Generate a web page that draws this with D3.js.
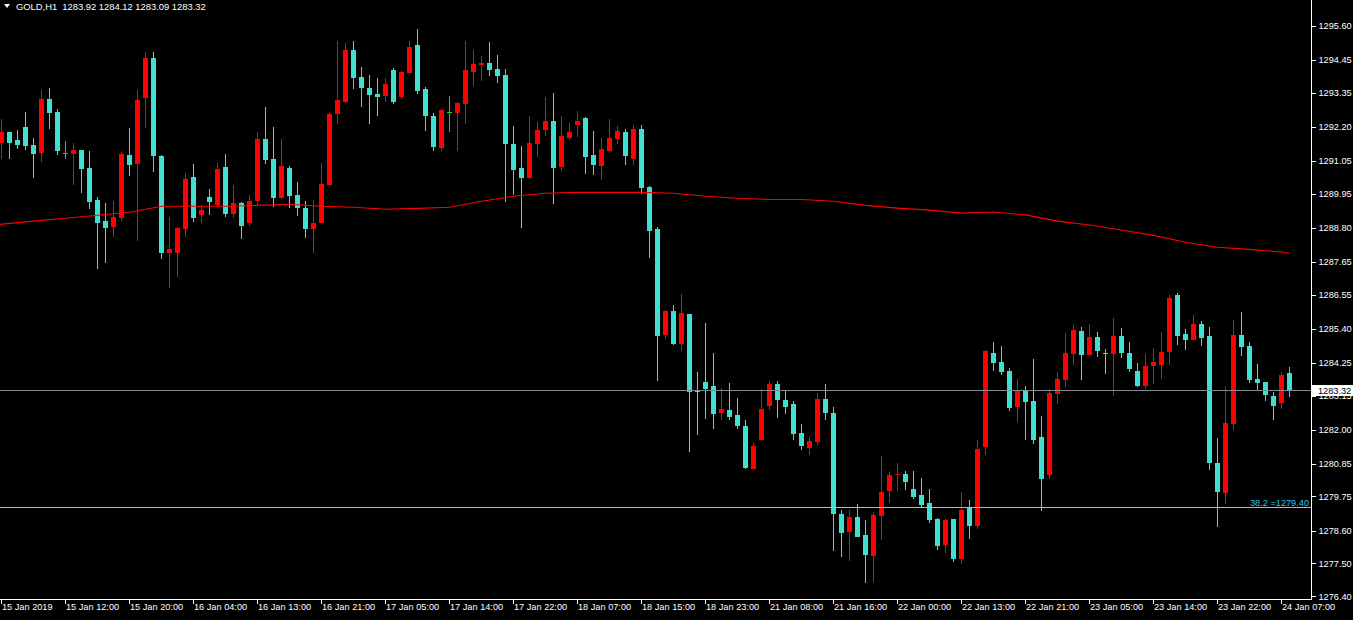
<!DOCTYPE html>
<html>
<head>
<meta charset="utf-8">
<script src="https://cdn.jsdelivr.net/npm/d3@7"></script>
<style>
  html, body { margin: 0; padding: 0; background: #000; }
  svg { display: block; }
  text { font-family: "Liberation Sans", Arial, sans-serif; }
</style>
</head>
<body>
<svg id="chart" width="1353" height="620"></svg>
<script>
// ---------------- DATA ----------------
const symbol = "GOLD,H1";
const headerOHLC = ["1283.92", "1284.12", "1283.09", "1283.32"];

const opens = [
1291.66,1292.01,1291.75,1292.19,1291.58,1291.32,1293.13,1292.69,1291.30,1291.29,
1291.41,1290.81,1289.73,1289.02,1288.82,1289.13,1291.25,1290.95,1293.18,1294.51,
1291.21,1287.96,1287.96,1288.77,1290.51,1289.24,1289.83,1289.57,1290.84,1289.27,
1289.63,1288.97,1289.71,1291.78,1291.11,1289.81,1290.81,1289.90,1289.46,1288.77,
1288.97,1290.25,1292.64,1293.04,1294.78,1293.87,1293.50,1293.30,1293.24,1294.11,
1293.21,1294.02,1294.95,1293.47,1292.56,1291.49,1292.68,1292.67,1292.97,1294.05,
1294.29,1294.34,1294.14,1293.94,1291.62,1290.81,1290.48,1291.63,1292.10,1292.39,
1290.85,1291.83,1292.26,1292.49,1291.25,1290.89,1291.38,1291.80,1292.02,1291.12,
1292.12,1290.17,1288.75,1285.19,1285.99,1284.89,1285.89,1283.33,1283.60,1283.47,
1282.57,1282.66,1282.49,1282.13,1280.68,1281.66,1282.81,1283.54,1283.00,1282.86,
1281.88,1281.39,1281.59,1283.03,1282.56,1279.16,1278.56,1279.06,1278.45,1277.75,
1279.10,1279.94,1280.48,1280.51,1280.00,1279.80,1279.53,1278.99,1278.12,1278.99,
1277.65,1279.36,1278.77,1281.42,1284.58,1284.27,1283.97,1282.77,1283.30,1282.96,
1281.75,1280.48,1283.21,1283.68,1284.56,1285.32,1284.52,1285.12,1284.58,1284.56,
1285.15,1284.58,1283.97,1283.48,1284.15,1284.19,1284.62,1286.53,1285.22,1285.03,
1285.56,1285.15,1280.88,1279.88,1282.20,1285.19,1284.82,1283.70,1283.60,1283.13,
1282.91,1283.92];
const highs = [
1292.46,1292.03,1292.09,1292.69,1291.83,1293.43,1293.50,1292.80,1291.72,1291.64,
1291.43,1291.38,1289.84,1289.63,1289.70,1291.35,1292.16,1293.43,1294.71,1294.71,
1291.25,1289.16,1288.82,1290.64,1290.94,1289.56,1290.10,1290.98,1291.27,1290.24,
1289.66,1289.90,1292.02,1292.86,1292.19,1291.78,1290.88,1290.34,1289.70,1289.73,
1290.98,1292.66,1295.08,1295.02,1295.08,1294.21,1293.94,1293.84,1293.84,1294.17,
1294.07,1295.08,1295.49,1293.54,1292.66,1292.78,1293.23,1293.03,1295.08,1294.78,
1294.58,1295.05,1294.61,1294.14,1292.22,1291.55,1292.56,1292.36,1293.20,1293.33,
1292.56,1292.32,1292.73,1292.51,1292.05,1291.82,1292.46,1292.22,1292.12,1292.26,
1292.26,1290.20,1288.82,1286.03,1286.20,1286.57,1285.91,1283.94,1285.59,1284.58,
1283.40,1283.57,1283.06,1282.33,1281.56,1283.38,1283.64,1283.64,1283.31,1282.96,
1282.19,1281.75,1283.23,1283.54,1282.76,1279.29,1279.29,1279.50,1278.96,1279.23,
1281.11,1280.57,1280.88,1280.61,1280.61,1280.37,1280.00,1279.02,1278.99,1279.00,
1279.90,1279.63,1281.65,1284.68,1284.95,1284.82,1284.07,1283.70,1283.47,1284.38,
1282.46,1283.37,1283.94,1285.25,1285.52,1285.46,1285.56,1285.29,1284.71,1285.76,
1285.42,1284.95,1284.24,1284.55,1284.75,1285.29,1286.53,1286.60,1285.39,1285.86,
1285.66,1285.46,1281.72,1283.47,1285.69,1285.96,1284.95,1284.21,1283.62,1283.28,
1283.94,1284.12];
const lows = [
1291.11,1291.11,1291.45,1291.42,1290.48,1291.01,1292.13,1291.25,1291.12,1290.24,
1289.98,1289.44,1287.40,1287.60,1288.49,1289.03,1290.55,1288.34,1292.17,1290.68,
1287.75,1286.78,1287.15,1288.50,1289.00,1288.96,1289.24,1289.51,1289.17,1289.14,
1288.43,1288.87,1289.57,1290.95,1289.51,1289.77,1289.47,1289.20,1288.46,1287.96,
1288.95,1290.23,1292.30,1293.01,1293.48,1292.87,1292.30,1292.57,1293.04,1292.97,
1293.14,1294.00,1293.31,1292.06,1291.39,1291.39,1292.03,1291.39,1292.30,1293.58,
1293.75,1293.92,1293.68,1289.67,1289.91,1288.80,1290.45,1291.19,1291.90,1289.61,
1290.72,1291.76,1291.86,1290.62,1290.58,1290.41,1291.36,1291.63,1290.92,1290.92,
1289.94,1287.79,1283.65,1285.06,1284.86,1284.66,1281.26,1281.83,1282.37,1282.03,
1282.33,1282.33,1282.03,1280.68,1280.66,1281.64,1282.67,1282.40,1282.54,1281.66,
1281.32,1281.16,1281.49,1282.33,1277.92,1277.72,1277.59,1278.37,1276.85,1276.88,
1278.29,1279.54,1279.94,1279.98,1279.67,1279.40,1278.87,1277.96,1277.86,1277.55,
1277.49,1278.33,1278.66,1281.16,1283.98,1283.85,1282.64,1282.27,1281.66,1281.53,
1279.27,1280.35,1282.87,1283.45,1284.19,1283.68,1284.50,1284.46,1283.88,1283.14,
1284.42,1283.95,1283.45,1283.38,1283.55,1283.71,1284.19,1284.86,1284.69,1285.01,
1284.83,1280.65,1278.73,1279.51,1282.00,1284.49,1283.58,1283.31,1282.97,1282.33,
1282.70,1283.09];
const closes = [
1292.01,1291.66,1291.58,1291.56,1291.29,1293.13,1292.67,1291.39,1291.30,1291.41,
1290.79,1289.67,1288.97,1288.79,1289.16,1291.29,1290.92,1293.10,1294.51,1291.22,
1287.96,1288.08,1288.79,1290.44,1289.14,1289.39,1289.67,1290.78,1289.27,1289.63,
1288.87,1289.70,1291.78,1291.09,1289.81,1290.88,1289.88,1289.47,1288.77,1288.96,
1290.27,1292.63,1293.10,1294.78,1293.85,1293.51,1293.28,1293.21,1293.64,1293.04,
1294.04,1294.88,1293.41,1292.57,1291.53,1292.76,1292.68,1293.00,1294.11,1294.31,
1294.34,1294.12,1293.92,1291.63,1290.75,1290.48,1291.65,1292.09,1292.39,1290.82,
1291.89,1292.02,1292.39,1291.19,1290.92,1291.45,1291.82,1292.05,1291.22,1292.12,
1290.15,1288.70,1285.16,1285.99,1284.88,1285.93,1283.28,1283.28,1283.38,1282.54,
1282.69,1282.43,1282.13,1280.72,1281.46,1282.70,1283.54,1283.01,1282.77,1281.86,
1281.46,1281.62,1283.03,1282.57,1279.17,1278.53,1279.06,1278.39,1277.79,1279.13,
1279.90,1280.47,1280.52,1280.25,1279.74,1279.47,1278.97,1278.09,1278.96,1277.65,
1279.29,1278.77,1281.35,1284.65,1284.25,1283.95,1282.74,1283.30,1282.94,1281.66,
1280.35,1283.23,1283.70,1284.58,1285.35,1284.52,1285.12,1284.66,1284.56,1285.15,
1284.59,1284.05,1283.48,1284.14,1284.27,1284.61,1286.43,1285.16,1285.03,1285.56,
1285.09,1280.89,1279.91,1282.22,1285.19,1284.79,1283.68,1283.58,1283.18,1282.81,
1283.84,1283.32];

// moving average, read at these bar indices
const maIndex = [0,4,8,12,16,20,24,28,32,36,40,44,48,52,56,60,64,68,72,76,80,
  84,88,92,96,100,104,108,112,116,120,124,128,132,136,140,144,148,152,156,160,161];
const maValues = [1288.91,1289.02,1289.12,1289.22,1289.32,1289.52,1289.52,1289.52,1289.55,1289.59,1289.52,
  1289.49,1289.42,1289.45,1289.49,1289.69,1289.86,1289.96,1289.99,1289.99,1289.99,
  1289.96,1289.86,1289.79,1289.75,1289.75,1289.69,1289.55,1289.46,1289.39,1289.29,
  1289.33,1289.23,1289.02,1288.89,1288.72,1288.54,1288.31,1288.14,1288.07,1287.98,1287.94];

const xTickIndex = [0,8,16,24,32,40,48,56,64,72,80,88,96,104,112,120,128,136,144,152,160];
const xTickLabels = ["15 Jan 2019","15 Jan 12:00","15 Jan 20:00","16 Jan 04:00","16 Jan 13:00",
  "16 Jan 21:00","17 Jan 05:00","17 Jan 14:00","17 Jan 22:00","18 Jan 07:00","18 Jan 15:00",
  "18 Jan 23:00","21 Jan 08:00","21 Jan 16:00","22 Jan 00:00","22 Jan 13:00","22 Jan 21:00",
  "23 Jan 05:00","23 Jan 14:00","23 Jan 22:00","24 Jan 07:00"];
const yTickLabels = ["1295.60","1294.45","1293.35","1292.20","1291.05","1289.95","1288.80",
  "1287.65","1286.55","1285.40","1284.25","1283.15","1282.00","1280.85","1279.75","1278.60",
  "1277.50","1276.40"];

const bidPrice = 1283.32;
const fibLevel = 1279.40;
const fibLabel = "38.2 =1279.40";

// ---------------- DRAW ----------------
const W = 1353, H = 620;
const plotRight = 1311, plotBottom = 599;
const colBear = "#40e0d0", colBull = "#ff0000", colDoji = "#22d022";

const svg = d3.select("#chart");
svg.append("rect").attr("width", W).attr("height", H).attr("fill", "#000");

const x = d3.scaleLinear().domain([0, 161]).range([1.5, 1289.5]);
const y = d3.scaleLinear().domain([1276.40, 1295.60]).range([596, 25.7]);

svg.append("defs").append("clipPath").attr("id", "plot")
  .append("rect").attr("x", 0).attr("y", 0).attr("width", plotRight).attr("height", plotBottom);

const bars = d3.range(opens.length).map(i => ({
  i, o: opens[i], h: highs[i], l: lows[i], c: closes[i]
}));
const colorOf = d => d.c > d.o ? colBull : (d.c < d.o ? colBear : colDoji);

const g = svg.append("g").attr("clip-path", "url(#plot)");

// wicks
g.selectAll("line.wick").data(bars).join("line")
  .attr("class", "wick")
  .attr("x1", d => Math.floor(x(d.i)) + 0.5).attr("x2", d => Math.floor(x(d.i)) + 0.5)
  .attr("y1", d => Math.round(y(d.h))).attr("y2", d => Math.round(y(d.l)))
  .attr("stroke", colorOf).attr("stroke-width", 1)
  .attr("shape-rendering", "crispEdges");

// bodies
g.selectAll("rect.body").data(bars).join("rect")
  .attr("class", "body")
  .attr("x", d => Math.floor(x(d.i)) - 2)
  .attr("width", 5)
  .attr("y", d => Math.round(y(Math.max(d.o, d.c))))
  .attr("height", d => Math.max(1, Math.round(y(Math.min(d.o, d.c))) - Math.round(y(Math.max(d.o, d.c)))))
  .attr("fill", colorOf)
  .attr("shape-rendering", "crispEdges");

// moving average
const maPts = maIndex.map((idx, k) => [idx, maValues[k]]);
g.append("path")
  .attr("d", d3.line().x(p => p[0] === 0 ? 0 : x(p[0])).y(p => y(p[1]))(maPts))
  .attr("fill", "none").attr("stroke", "#ff0000").attr("stroke-width", 1.1);

// bid line
g.append("line")
  .attr("x1", 0).attr("x2", plotRight)
  .attr("y1", Math.round(y(bidPrice)) + 0.5).attr("y2", Math.round(y(bidPrice)) + 0.5)
  .attr("stroke", "#7d8c9b").attr("stroke-width", 1).attr("shape-rendering", "crispEdges");

// fibo level
g.append("line")
  .attr("x1", 0).attr("x2", plotRight)
  .attr("y1", Math.round(y(fibLevel)) + 0.5).attr("y2", Math.round(y(fibLevel)) + 0.5)
  .attr("stroke", "#5fdde8").attr("stroke-width", 1).attr("shape-rendering", "crispEdges");
svg.append("text")
  .attr("x", 1309).attr("y", Math.round(y(fibLevel)) - 1.5)
  .attr("text-anchor", "end").attr("font-size", 9.2).attr("fill", "#2cc8ee")
  .text(fibLabel);

// axes frame
svg.append("line").attr("x1", plotRight + 0.5).attr("x2", plotRight + 0.5)
  .attr("y1", 0).attr("y2", plotBottom + 1)
  .attr("stroke", "#fff").attr("shape-rendering", "crispEdges");
svg.append("line").attr("x1", 0).attr("x2", plotRight + 1)
  .attr("y1", plotBottom + 0.5).attr("y2", plotBottom + 0.5)
  .attr("stroke", "#fff").attr("shape-rendering", "crispEdges");

// right price axis
const yAxis = d3.axisRight(y)
  .tickValues(yTickLabels.map(Number))
  .tickFormat((v, k) => yTickLabels[k])
  .tickSize(4).tickPadding(3);
const ya = svg.append("g").attr("transform", `translate(${plotRight + 0.5},0)`).call(yAxis);
ya.select(".domain").remove();
ya.selectAll(".tick line").attr("stroke", "#fff").attr("shape-rendering", "crispEdges");
ya.selectAll(".tick text").attr("fill", "#fff").attr("font-size", 9.2)
  .attr("font-family", "Liberation Sans, Arial, sans-serif").attr("dy", "0.34em");

// bottom time axis
const xAxis = d3.axisBottom(x)
  .tickValues(xTickIndex)
  .tickFormat((v, k) => xTickLabels[k])
  .tickSize(4).tickPadding(3);
const xa = svg.append("g").attr("transform", `translate(-0.5,${plotBottom + 0.5})`).call(xAxis);
xa.select(".domain").remove();
xa.selectAll(".tick line").attr("stroke", "#fff").attr("shape-rendering", "crispEdges");
xa.selectAll(".tick text").attr("fill", "#fff").attr("font-size", 9.2)
  .attr("font-family", "Liberation Sans, Arial, sans-serif")
  .attr("text-anchor", "start").attr("x", 0.5).attr("y", 4).attr("dy", "0.71em");

// bid price marker on the axis
const by = Math.round(y(bidPrice));
svg.append("rect").attr("x", plotRight + 1).attr("y", by - 5).attr("width", W - plotRight - 1).attr("height", 11)
  .attr("fill", "#fff");
svg.append("text").attr("x", plotRight + 7).attr("y", by + 3.5)
  .attr("font-size", 9.2).attr("fill", "#000").text(bidPrice.toFixed(2));

// header
svg.append("path").attr("d", "M4,4 L10,4 L7,8 Z").attr("fill", "#fff");
svg.append("text").attr("x", 16).attr("y", 9.5).attr("font-size", 9.4).attr("fill", "#fff")
  .attr("xml:space", "preserve")
  .text(symbol + "  " + headerOHLC.join(" "));
</script>
</body>
</html>
